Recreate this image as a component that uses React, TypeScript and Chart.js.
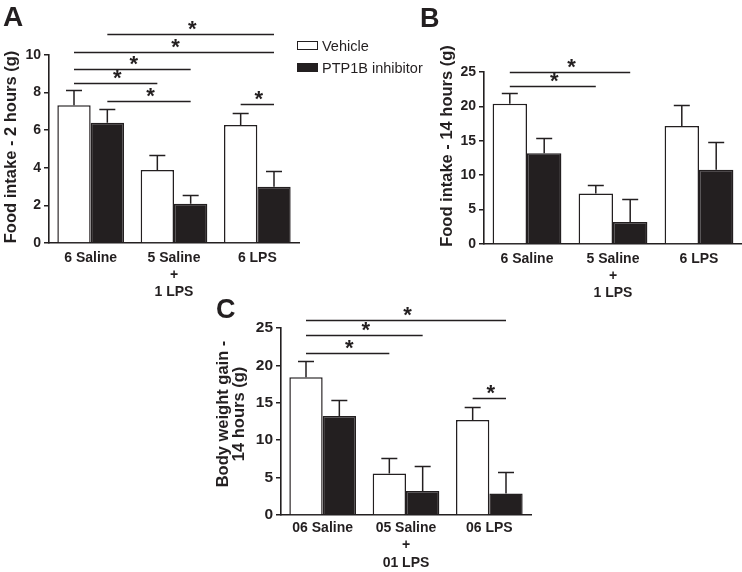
import React, { useEffect, useRef } from 'react';
import { Chart, registerables } from 'chart.js';

Chart.register(...registerables);

const FONT = "'Liberation Sans', Arial, Helvetica, sans-serif";
const INK = '#231f20';

// ---------- Panel A: Food intake - 2 hours ----------
const catsA: string[][] = [['6 Saline'], ['5 Saline', '+', '1 LPS'], ['6 LPS']];
const vehicleA = [7.33, 3.88, 6.27];
const vehicleErrA = [0.8, 0.8, 0.64];
const inhibitorA = [6.4, 2.09, 2.99];
const inhibitorErrA = [0.73, 0.46, 0.84];
const yMaxA = 10;
const yStepA = 2;
// bracket: [datasetA, indexA, datasetB, indexB, level]
const sigA: number[][] = [
  [1, 0, 1, 2, 11.12],
  [0, 0, 1, 2, 10.14],
  [0, 0, 1, 1, 9.27],
  [0, 0, 0, 1, 8.49],
  [1, 0, 1, 1, 7.57],
  [0, 2, 1, 2, 7.41],
];

// ---------- Panel B: Food intake - 14 hours ----------
const catsB: string[][] = [['6 Saline'], ['5 Saline', '+', '1 LPS'], ['6 LPS']];
const vehicleB = [20.4, 7.33, 17.15];
const vehicleErrB = [1.6, 1.3, 3.05];
const inhibitorB = [13.2, 3.2, 10.8];
const inhibitorErrB = [2.2, 3.34, 4.0];
const yMaxB = 25;
const yStepB = 5;
const sigB: number[][] = [
  [0, 0, 1, 1, 25.0],
  [0, 0, 0, 1, 22.9],
];

// ---------- Panel C: Body weight gain - 14 hours ----------
const catsC: string[][] = [['06 Saline'], ['05 Saline', '+', '01 LPS'], ['06 LPS']];
const vehicleC = [18.4, 5.55, 12.7];
const vehicleErrC = [2.17, 2.13, 1.78];
const inhibitorC = [13.24, 3.2, 2.88];
const inhibitorErrC = [2.13, 3.41, 2.89];
const yMaxC = 25;
const yStepC = 5;
const sigC: number[][] = [
  [0, 0, 1, 2, 26.1],
  [0, 0, 1, 1, 24.03],
  [0, 0, 0, 1, 21.67],
  [0, 2, 1, 2, 15.59],
];

const seriesNames = ['Vehicle', 'PTP1B inhibitor'];

type PanelSpec = {
  letter: string;
  letterSize: number;
  letterX: number;
  letterY: number;
  yTitle: string[];
  yTitleX: number;
  yTitleY: number;
  yTitleLH: number;
  cats: string[][];
  veh: number[];
  vehErr: number[];
  inh: number[];
  inhErr: number[];
  yMax: number;
  yStep: number;
  sig: number[][];
  box: { left: number; top: number; width: number; height: number };
  padTop: number;
  padRight: number;
  yAxisW: number;
  xAxisH: number;
  yTickSize: number;
  xTickPad: number;
};

const STAR = 22;

const panelPlugin = {
  id: 'panelDecor',
  afterDraw(chart: any, _args: any, opts: any) {
    const ctx: CanvasRenderingContext2D = chart.ctx;
    const y = chart.scales.y;
    ctx.save();
    ctx.fillStyle = INK;
    ctx.strokeStyle = INK;

    // error bars (upper SEM)
    chart.data.datasets.forEach((ds: any, di: number) => {
      const meta = chart.getDatasetMeta(di);
      meta.data.forEach((el: any, i: number) => {
        const top = Math.round(y.getPixelForValue(ds.data[i] + ds.errors[i])) + 0.5;
        const x = el.x;
        ctx.lineWidth = 1.5;
        ctx.beginPath();
        ctx.moveTo(x, el.y);
        ctx.lineTo(x, top);
        ctx.moveTo(x - 8, top);
        ctx.lineTo(x + 8, top);
        ctx.stroke();
      });
    });

    // significance brackets
    ctx.font = `bold ${STAR}px ${FONT}`;
    ctx.textAlign = 'center';
    ctx.textBaseline = 'alphabetic';
    opts.sig.forEach((s: number[]) => {
      const x1 = chart.getDatasetMeta(s[0]).data[s[1]].x;
      const x2 = chart.getDatasetMeta(s[2]).data[s[3]].x;
      const ly = Math.round(y.getPixelForValue(s[4])) + 0.5;
      ctx.lineWidth = 1.4;
      ctx.beginPath();
      ctx.moveTo(x1, ly);
      ctx.lineTo(x2, ly);
      ctx.stroke();
      ctx.fillText('*', (x1 + x2) / 2 + 1.5, ly + 1);
    });

    // y title
    ctx.font = `bold 16.5px ${FONT}`;
    ctx.textAlign = 'center';
    ctx.textBaseline = 'middle';
    ctx.translate(opts.yTitleX, opts.yTitleY);
    ctx.rotate(-Math.PI / 2);
    const n = opts.yTitle.length;
    opts.yTitle.forEach((t: string, i: number) => {
      ctx.fillText(t, 0, (i - (n - 1) / 2) * opts.yTitleLH);
    });
    ctx.setTransform(1, 0, 0, 1, 0, 0);

    // panel letter
    ctx.font = `bold ${opts.letterSize}px ${FONT}`;
    ctx.textAlign = 'left';
    ctx.textBaseline = 'alphabetic';
    ctx.fillText(opts.letter, opts.letterX, opts.letterY);
    ctx.restore();
  },
};

function Panel({ spec }: { spec: PanelSpec }) {
  const ref = useRef<HTMLCanvasElement>(null);
  useEffect(() => {
    if (!ref.current) return;
    const chart = new Chart(ref.current, {
      type: 'bar',
      data: {
        labels: spec.cats,
        datasets: [
          {
            label: seriesNames[0],
            data: spec.veh,
            errors: spec.vehErr,
            backgroundColor: '#ffffff',
            borderColor: INK,
            borderWidth: 1.5,
            categoryPercentage: 0.8,
            barPercentage: 1,
          } as any,
          {
            label: seriesNames[1],
            data: spec.inh,
            errors: spec.inhErr,
            backgroundColor: INK,
            borderColor: INK,
            borderWidth: 1.5,
            categoryPercentage: 0.8,
            barPercentage: 1,
          } as any,
        ],
      },
      options: {
        animation: false,
        responsive: false,
        maintainAspectRatio: false,
        devicePixelRatio: 1,
        layout: { padding: { top: spec.padTop, right: spec.padRight, left: 0, bottom: 0 } },
        plugins: {
          legend: { display: false },
          tooltip: { enabled: false },
          panelDecor: spec as any,
        } as any,
        scales: {
          x: {
            type: 'category',
            offset: true,
            grid: { display: false, drawTicks: false },
            border: { display: true, color: INK, width: 1.6 },
            ticks: {
              color: INK,
              padding: spec.xTickPad,
              maxRotation: 0,
              autoSkip: false,
              font: { family: FONT, size: 14, weight: 'bold', lineHeight: 1.24 },
            },
            afterFit: (s: any) => {
              s.height = spec.xAxisH;
            },
          },
          y: {
            min: 0,
            max: spec.yMax,
            grid: {
              drawOnChartArea: false,
              drawTicks: true,
              tickLength: 5,
              color: INK,
              lineWidth: 1.5,
            },
            border: { display: true, color: INK, width: 1.6 },
            ticks: {
              stepSize: spec.yStep,
              color: INK,
              padding: 3,
              font: { family: FONT, size: spec.yTickSize, weight: 'bold' },
            },
            afterFit: (s: any) => {
              s.width = spec.yAxisW;
            },
          },
        },
      } as any,
      plugins: [panelPlugin],
    });
    return () => chart.destroy();
  }, [spec]);
  const b = spec.box;
  return (
    <div style={{ position: 'absolute', left: b.left, top: b.top, width: b.width, height: b.height }}>
      <canvas ref={ref} width={b.width} height={b.height} style={{ display: 'block', width: b.width, height: b.height }} />
    </div>
  );
}

const specA: PanelSpec = {
  letter: 'A', letterSize: 28, letterX: 3, letterY: 26,
  yTitle: ['Food intake - 2 hours (g)'], yTitleX: 11, yTitleY: 147, yTitleLH: 16,
  cats: catsA, veh: vehicleA, vehErr: vehicleErrA, inh: inhibitorA, inhErr: inhibitorErrA,
  yMax: yMaxA, yStep: yStepA, sig: sigA,
  box: { left: 0, top: 0, width: 300, height: 300 },
  padTop: 55, padRight: 1, yAxisW: 49, xAxisH: 57, yTickSize: 14, xTickPad: 6,
};

const specB: PanelSpec = {
  letter: 'B', letterSize: 27, letterX: 20, letterY: 27,
  yTitle: ['Food intake - 14 hours (g)'], yTitleX: 47, yTitleY: 146, yTitleLH: 16,
  cats: catsB, veh: vehicleB, vehErr: vehicleErrB, inh: inhibitorB, inhErr: inhibitorErrB,
  yMax: yMaxB, yStep: yStepB, sig: sigB,
  box: { left: 400, top: 0, width: 342, height: 300 },
  padTop: 72, padRight: 0, yAxisW: 84, xAxisH: 56, yTickSize: 14, xTickPad: 6,
};

const specC: PanelSpec = {
  letter: 'C', letterSize: 27, letterX: 16, letterY: 28,
  yTitle: ['Body weight gain -', '14 hours (g)'], yTitleX: 31.5, yTitleY: 124, yTitleLH: 15.5,
  cats: catsC, veh: vehicleC, vehErr: vehicleErrC, inh: inhibitorC, inhErr: inhibitorErrC,
  yMax: yMaxC, yStep: yStepC, sig: sigC,
  box: { left: 200, top: 290, width: 340, height: 282 },
  padTop: 38, padRight: 9, yAxisW: 81, xAxisH: 57, yTickSize: 15.5, xTickPad: 4.5,
};

function Legend() {
  const boxBase: React.CSSProperties = {
    position: 'absolute',
    left: 297,
    width: 21,
    height: 9,
    boxSizing: 'border-box',
    border: `1.5px solid ${INK}`,
  };
  const textBase: React.CSSProperties = {
    position: 'absolute',
    left: 322,
    fontFamily: FONT,
    fontSize: 14.5,
    lineHeight: '16px',
    color: INK,
    whiteSpace: 'nowrap',
  };
  return (
    <>
      <div style={{ ...boxBase, top: 41, background: '#fff' }} />
      <div style={{ ...textBase, top: 38 }}>{seriesNames[0]}</div>
      <div style={{ ...boxBase, top: 63, background: INK }} />
      <div style={{ ...textBase, top: 60 }}>{seriesNames[1]}</div>
    </>
  );
}

export default function App() {
  return (
    <div style={{ position: 'absolute', left: 0, top: 0, width: 742, height: 572, background: '#fff', overflow: 'hidden' }}>
      <Panel spec={specA} />
      <Panel spec={specB} />
      <Panel spec={specC} />
      <Legend />
    </div>
  );
}
